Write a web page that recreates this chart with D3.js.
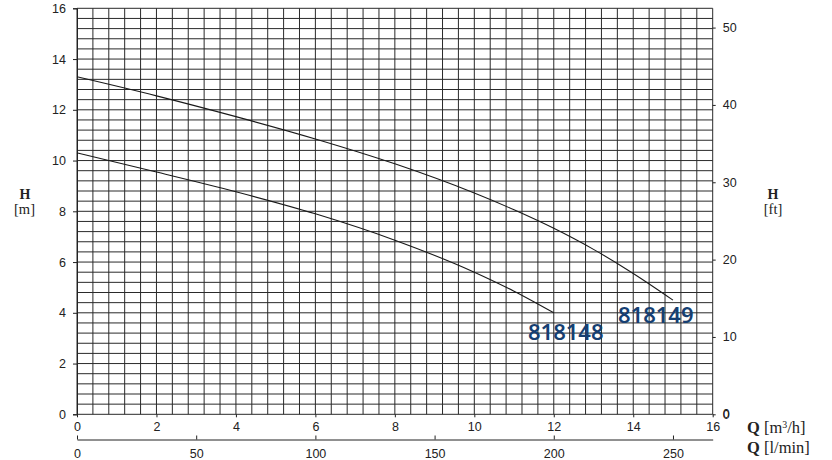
<!DOCTYPE html>
<html>
<head>
<meta charset="utf-8">
<script src="https://cdn.jsdelivr.net/npm/d3@7"></script>
<style>
  html, body { margin: 0; padding: 0; background: #fff; }
  svg { display: block; }
</style>
</head>
<body>
<svg id="chart" width="832" height="460"></svg>
<script>
// ---- data ----
const qTicks = [0, 2, 4, 6, 8, 10, 12, 14, 16];          // m3/h
const lminTicks = [0, 50, 100, 150, 200, 250];           // l/min
const hTicks = [0, 2, 4, 6, 8, 10, 12, 14, 16];          // m
const ftTicks = [0, 10, 20, 30, 40, 50];                 // ft

const q148 = [0, 2, 4, 6, 8, 10, 11, 12];
const h148 = [10.3, 9.55, 8.77, 7.9, 6.86, 5.6, 4.85, 4.0];
const q149 = [0, 2, 4, 6, 8, 10, 11, 12, 13, 14, 15];
const h149 = [13.3, 12.55, 11.73, 10.85, 9.87, 8.72, 8.06, 7.33, 6.5, 5.55, 4.5];
const seriesNames = ["818148", "818149"];

// ---- layout ----
const L = 77, R = 712.7, T = 8.3, B = 414.3;
const svg = d3.select("#chart");

const x = d3.scaleLinear().domain([0, 16]).range([L, R]);
const y = d3.scaleLinear().domain([0, 16]).range([B, T]);
const xl = d3.scaleLinear().domain([0, 16 * 1000 / 60]).range([L, R]);
const yft = d3.scaleLinear().domain([0, 16 / 0.3048]).range([B, T]);

// ---- grid ----
const gridStep = 0.4;
const gridVals = d3.range(0, 16 + 1e-9, gridStep);
const grid = svg.append("g").attr("stroke", "#2a2a2a").attr("stroke-width", 1);
grid.selectAll("line.v").data(gridVals).join("line").attr("class", "v")
  .attr("x1", d => x(d)).attr("x2", d => x(d)).attr("y1", T).attr("y2", B);
grid.selectAll("line.h").data(gridVals).join("line").attr("class", "h")
  .attr("y1", d => y(d)).attr("y2", d => y(d)).attr("x1", L).attr("x2", R);

// ---- axes ----
const tickFont = "'Liberation Sans', Arial, sans-serif";
function styleAxis(g) {
  g.selectAll("text").attr("font-family", tickFont).attr("font-size", 12.5).attr("fill", "#222");
  g.selectAll("line").attr("stroke", "#222");
  g.select(".domain").attr("stroke", "#222");
}

svg.append("g").attr("transform", `translate(${L},0)`)
  .call(d3.axisLeft(y).tickValues(hTicks).tickSize(4).tickPadding(7))
  .call(styleAxis);

svg.append("g").attr("transform", `translate(${R},0)`)
  .call(d3.axisRight(yft).tickValues(ftTicks).tickSize(3).tickPadding(7))
  .call(styleAxis)
  .call(g => g.select(".domain").remove());
svg.append("text").attr("x", R + 10).attr("y", y(0)).attr("dy", "0.32em")
  .attr("font-family", tickFont).attr("font-size", 12.5).attr("fill", "#222").text("0");

svg.append("g").attr("transform", `translate(0,${B})`)
  .call(d3.axisBottom(x).tickValues(qTicks).tickSize(3).tickPadding(5))
  .call(styleAxis)
  .call(g => g.select(".domain").remove());

svg.append("g").attr("transform", `translate(0,439.5)`)
  .call(d3.axisTop(xl).tickValues(lminTicks).tickSize(4).tickSizeOuter(0))
  .call(styleAxis)
  .call(g => g.selectAll("text").attr("y", 18).attr("dy", "0"));

// ---- curves ----
const line = d3.line().x(d => x(d[0])).y(d => y(d[1])).curve(d3.curveMonotoneX);
const curves = [d3.zip(q148, h148), d3.zip(q149, h149)];
svg.append("g").selectAll("path").data(curves).join("path")
  .attr("d", line).attr("fill", "none").attr("stroke", "#1a1a1a").attr("stroke-width", 1.1);

// ---- curve labels ----
const labelFont = "'Noto Sans', 'Open Sans', sans-serif";
svg.append("text").attr("x", 528).attr("y", 339.5)
  .attr("font-family", labelFont).attr("font-size", 22).attr("font-weight", 600)
  .attr("fill", "#163f72").text(seriesNames[0]);
svg.append("text").attr("x", 618).attr("y", 322.5)
  .attr("font-family", labelFont).attr("font-size", 22).attr("font-weight", 600)
  .attr("fill", "#163f72").text(seriesNames[1]);

// ---- axis titles ----
const serif = "'Liberation Serif', 'DejaVu Serif', serif";
function title(xp, yp, parts, size, anchor) {
  const t = svg.append("text").attr("x", xp).attr("y", yp)
    .attr("font-family", serif).attr("font-size", size).attr("fill", "#222")
    .attr("text-anchor", anchor || "middle");
  parts.forEach(p => {
    const s = t.append("tspan").text(p.t).attr("font-weight", p.b ? "bold" : "normal");
    if (p.sup) s.attr("baseline-shift", "super").attr("font-size", size * 0.6);
  });
  return t;
}
title(25, 198.5, [{t: "H", b: true}], 14);
title(24.5, 214, [{t: "[m]", b: false}], 14.5);
title(773, 198.5, [{t: "H", b: true}], 14);
title(773, 214, [{t: "[ft]", b: false}], 14.5);
title(747, 433, [{t: "Q", b: true}, {t: " [m"}, {t: "3", sup: true}, {t: "/h]"}], 16.5, "start");
title(747, 453, [{t: "Q", b: true}, {t: " [l/min]"}], 16.5, "start");
</script>
</body>
</html>
